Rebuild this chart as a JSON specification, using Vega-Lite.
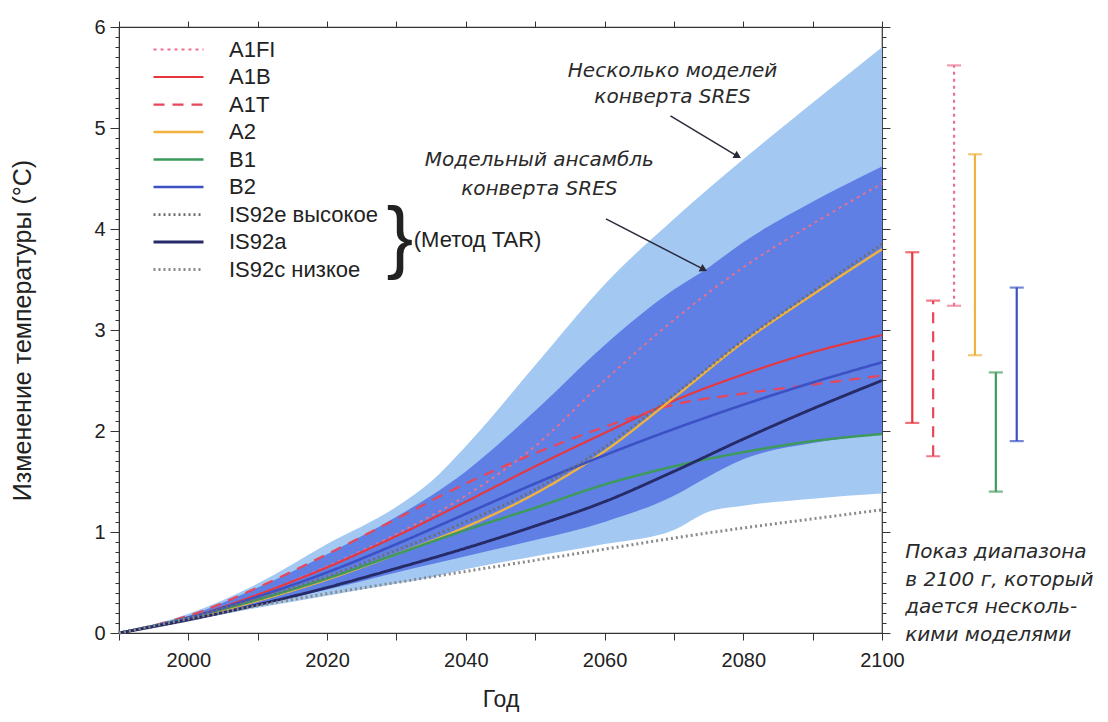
{
  "$schema": "https://vega.github.io/schema/vega-lite/v6.json",
  "background": "white",
  "padding": {"left": 10, "top": 16, "right": 0, "bottom": 0},
  "config": {
    "font": "Liberation Sans",
    "axis": {"labelFont": "Liberation Sans", "titleFont": "Liberation Sans", "labelColor": "#222", "titleColor": "#222", "domainColor": "#333", "tickColor": "#333", "titleFontWeight": "normal"},
    "view": {"stroke": "#333", "strokeWidth": 1.2}
  },
  "datasets": {
    "env": [
      {"year": 1990, "lightLo": 0, "lightHi": 0, "darkLo": 0, "darkHi": 0},
      {"year": 2000, "lightLo": 0.12, "lightHi": 0.19, "darkLo": 0.13, "darkHi": 0.17},
      {"year": 2010, "lightLo": 0.25, "lightHi": 0.49, "darkLo": 0.28, "darkHi": 0.45},
      {"year": 2020, "lightLo": 0.37, "lightHi": 0.88, "darkLo": 0.43, "darkHi": 0.78},
      {"year": 2030, "lightLo": 0.49, "lightHi": 1.25, "darkLo": 0.6, "darkHi": 1.15},
      {"year": 2035, "lightLo": 0.55, "lightHi": 1.5, "darkLo": 0.68, "darkHi": 1.36},
      {"year": 2040, "lightLo": 0.63, "lightHi": 1.85, "darkLo": 0.76, "darkHi": 1.6},
      {"year": 2050, "lightLo": 0.76, "lightHi": 2.65, "darkLo": 0.92, "darkHi": 2.2},
      {"year": 2060, "lightLo": 0.88, "lightHi": 3.45, "darkLo": 1.1, "darkHi": 2.85},
      {"year": 2070, "lightLo": 1.02, "lightHi": 4.1, "darkLo": 1.36, "darkHi": 3.4},
      {"year": 2075, "lightLo": 1.2, "lightHi": 4.4, "darkLo": 1.55, "darkHi": 3.62},
      {"year": 2080, "lightLo": 1.26, "lightHi": 4.69, "darkLo": 1.72, "darkHi": 3.87},
      {"year": 2090, "lightLo": 1.33, "lightHi": 5.25, "darkLo": 1.88, "darkHi": 4.27},
      {"year": 2100, "lightLo": 1.38, "lightHi": 5.8, "darkLo": 1.97, "darkHi": 4.62}
    ],
    "series": [
      {"scenario": "A1FI", "year": 1990, "temp": 0}, {"scenario": "A1FI", "year": 2000, "temp": 0.15}, {"scenario": "A1FI", "year": 2010, "temp": 0.38}, {"scenario": "A1FI", "year": 2020, "temp": 0.66}, {"scenario": "A1FI", "year": 2030, "temp": 0.98}, {"scenario": "A1FI", "year": 2040, "temp": 1.36}, {"scenario": "A1FI", "year": 2050, "temp": 1.85}, {"scenario": "A1FI", "year": 2060, "temp": 2.5}, {"scenario": "A1FI", "year": 2070, "temp": 3.1}, {"scenario": "A1FI", "year": 2080, "temp": 3.62}, {"scenario": "A1FI", "year": 2090, "temp": 4.05}, {"scenario": "A1FI", "year": 2100, "temp": 4.45},
      {"scenario": "A1B", "year": 1990, "temp": 0}, {"scenario": "A1B", "year": 2000, "temp": 0.15}, {"scenario": "A1B", "year": 2010, "temp": 0.38}, {"scenario": "A1B", "year": 2020, "temp": 0.65}, {"scenario": "A1B", "year": 2030, "temp": 0.96}, {"scenario": "A1B", "year": 2040, "temp": 1.3}, {"scenario": "A1B", "year": 2050, "temp": 1.65}, {"scenario": "A1B", "year": 2060, "temp": 1.98}, {"scenario": "A1B", "year": 2070, "temp": 2.3}, {"scenario": "A1B", "year": 2080, "temp": 2.56}, {"scenario": "A1B", "year": 2090, "temp": 2.78}, {"scenario": "A1B", "year": 2100, "temp": 2.95},
      {"scenario": "A1T", "year": 1990, "temp": 0}, {"scenario": "A1T", "year": 2000, "temp": 0.17}, {"scenario": "A1T", "year": 2010, "temp": 0.45}, {"scenario": "A1T", "year": 2020, "temp": 0.78}, {"scenario": "A1T", "year": 2030, "temp": 1.13}, {"scenario": "A1T", "year": 2040, "temp": 1.48}, {"scenario": "A1T", "year": 2050, "temp": 1.78}, {"scenario": "A1T", "year": 2060, "temp": 2.04}, {"scenario": "A1T", "year": 2070, "temp": 2.26}, {"scenario": "A1T", "year": 2080, "temp": 2.37}, {"scenario": "A1T", "year": 2090, "temp": 2.46}, {"scenario": "A1T", "year": 2100, "temp": 2.55},
      {"scenario": "A2", "year": 1990, "temp": 0}, {"scenario": "A2", "year": 2000, "temp": 0.14}, {"scenario": "A2", "year": 2010, "temp": 0.32}, {"scenario": "A2", "year": 2020, "temp": 0.53}, {"scenario": "A2", "year": 2030, "temp": 0.78}, {"scenario": "A2", "year": 2040, "temp": 1.05}, {"scenario": "A2", "year": 2050, "temp": 1.38}, {"scenario": "A2", "year": 2060, "temp": 1.8}, {"scenario": "A2", "year": 2070, "temp": 2.33}, {"scenario": "A2", "year": 2080, "temp": 2.88}, {"scenario": "A2", "year": 2090, "temp": 3.35}, {"scenario": "A2", "year": 2100, "temp": 3.8},
      {"scenario": "B1", "year": 1990, "temp": 0}, {"scenario": "B1", "year": 2000, "temp": 0.15}, {"scenario": "B1", "year": 2010, "temp": 0.33}, {"scenario": "B1", "year": 2020, "temp": 0.54}, {"scenario": "B1", "year": 2030, "temp": 0.78}, {"scenario": "B1", "year": 2040, "temp": 1.02}, {"scenario": "B1", "year": 2050, "temp": 1.24}, {"scenario": "B1", "year": 2060, "temp": 1.47}, {"scenario": "B1", "year": 2070, "temp": 1.65}, {"scenario": "B1", "year": 2080, "temp": 1.79}, {"scenario": "B1", "year": 2090, "temp": 1.9}, {"scenario": "B1", "year": 2100, "temp": 1.97},
      {"scenario": "B2", "year": 1990, "temp": 0}, {"scenario": "B2", "year": 2000, "temp": 0.15}, {"scenario": "B2", "year": 2010, "temp": 0.36}, {"scenario": "B2", "year": 2020, "temp": 0.6}, {"scenario": "B2", "year": 2030, "temp": 0.88}, {"scenario": "B2", "year": 2040, "temp": 1.18}, {"scenario": "B2", "year": 2050, "temp": 1.48}, {"scenario": "B2", "year": 2060, "temp": 1.76}, {"scenario": "B2", "year": 2070, "temp": 2.02}, {"scenario": "B2", "year": 2080, "temp": 2.26}, {"scenario": "B2", "year": 2090, "temp": 2.48}, {"scenario": "B2", "year": 2100, "temp": 2.68},
      {"scenario": "IS92e высокое", "year": 1990, "temp": 0}, {"scenario": "IS92e высокое", "year": 2000, "temp": 0.15}, {"scenario": "IS92e высокое", "year": 2010, "temp": 0.34}, {"scenario": "IS92e высокое", "year": 2020, "temp": 0.56}, {"scenario": "IS92e высокое", "year": 2030, "temp": 0.82}, {"scenario": "IS92e высокое", "year": 2040, "temp": 1.1}, {"scenario": "IS92e высокое", "year": 2050, "temp": 1.42}, {"scenario": "IS92e высокое", "year": 2060, "temp": 1.84}, {"scenario": "IS92e высокое", "year": 2070, "temp": 2.36}, {"scenario": "IS92e высокое", "year": 2080, "temp": 2.9}, {"scenario": "IS92e высокое", "year": 2090, "temp": 3.38}, {"scenario": "IS92e высокое", "year": 2100, "temp": 3.85},
      {"scenario": "IS92a", "year": 1990, "temp": 0}, {"scenario": "IS92a", "year": 2000, "temp": 0.13}, {"scenario": "IS92a", "year": 2010, "temp": 0.28}, {"scenario": "IS92a", "year": 2020, "temp": 0.45}, {"scenario": "IS92a", "year": 2030, "temp": 0.64}, {"scenario": "IS92a", "year": 2040, "temp": 0.84}, {"scenario": "IS92a", "year": 2050, "temp": 1.06}, {"scenario": "IS92a", "year": 2060, "temp": 1.3}, {"scenario": "IS92a", "year": 2070, "temp": 1.6}, {"scenario": "IS92a", "year": 2080, "temp": 1.92}, {"scenario": "IS92a", "year": 2090, "temp": 2.22}, {"scenario": "IS92a", "year": 2100, "temp": 2.5},
      {"scenario": "IS92c низкое", "year": 1990, "temp": 0}, {"scenario": "IS92c низкое", "year": 2000, "temp": 0.14}, {"scenario": "IS92c низкое", "year": 2010, "temp": 0.27}, {"scenario": "IS92c низкое", "year": 2020, "temp": 0.39}, {"scenario": "IS92c низкое", "year": 2030, "temp": 0.5}, {"scenario": "IS92c низкое", "year": 2040, "temp": 0.61}, {"scenario": "IS92c низкое", "year": 2050, "temp": 0.72}, {"scenario": "IS92c низкое", "year": 2060, "temp": 0.83}, {"scenario": "IS92c низкое", "year": 2070, "temp": 0.94}, {"scenario": "IS92c низкое", "year": 2080, "temp": 1.04}, {"scenario": "IS92c низкое", "year": 2090, "temp": 1.13}, {"scenario": "IS92c низкое", "year": 2100, "temp": 1.22}
    ],
    "ranges": [
      {"scenario": "A1B", "lo": 2.08, "hi": 3.77},
      {"scenario": "A1T", "lo": 1.75, "hi": 3.29},
      {"scenario": "A1FI", "lo": 3.24, "hi": 5.62},
      {"scenario": "A2", "lo": 2.75, "hi": 4.74},
      {"scenario": "B1", "lo": 1.4, "hi": 2.58},
      {"scenario": "B2", "lo": 1.9, "hi": 3.42}
    ]
  },
  "spacing": 0,
  "hconcat": [
    {
      "width": 763,
      "height": 606,
      "resolve": {"axis": {"x": "independent", "y": "independent"}},
      "layer": [
        {
          "data": {"name": "env"},
          "mark": {"type": "area", "color": "#a3c9f3", "interpolate": "monotone"},
          "encoding": {
            "x": {"field": "year", "type": "quantitative", "scale": {"domain": [1990, 2100], "nice": false, "zero": false},
              "axis": {"title": "Год", "titleFontSize": 23, "titlePadding": 18, "labelFontSize": 20, "labelPadding": 10, "format": "d", "grid": false,
                "values": [1990, 2000, 2010, 2020, 2030, 2040, 2050, 2060, 2070, 2080, 2090, 2100],
                "labelExpr": "datum.value % 20 === 0 ? datum.label : ''", "tickSize": 7, "labelFlush": false}},
            "y": {"field": "lightLo", "type": "quantitative", "scale": {"domain": [0, 6], "nice": false},
              "axis": {"title": "Изменение температуры (°C)", "titleFontSize": 25, "titlePadding": 58, "labelFontSize": 20, "labelPadding": 5, "grid": false,
                "values": [0,0.1,0.2,0.3,0.4,0.5,0.6,0.7,0.8,0.9,1,1.1,1.2,1.3,1.4,1.5,1.6,1.7,1.8,1.9,2,2.1,2.2,2.3,2.4,2.5,2.6,2.7,2.8,2.9,3,3.1,3.2,3.3,3.4,3.5,3.6,3.7,3.8,3.9,4,4.1,4.2,4.3,4.4,4.5,4.6,4.7,4.8,4.9,5,5.1,5.2,5.3,5.4,5.5,5.6,5.7,5.8,5.9,6],
                "labelExpr": "abs(datum.value - round(datum.value)) < 0.001 ? format(datum.value, 'd') : ''",
                "tickSize": {"condition": {"test": "abs(datum.value - round(datum.value)) < 0.001", "value": 9}, "value": 4}}},
            "y2": {"field": "lightHi"}
          }
        },
        {
          "data": {"name": "env"},
          "mark": {"type": "area", "color": "#5f7fe4", "interpolate": "monotone"},
          "encoding": {
            "x": {"field": "year", "type": "quantitative", "axis": {"orient": "top", "labels": false, "title": null, "grid": false, "tickSize": 6, "domain": false,
              "values": [1990, 2000, 2010, 2020, 2030, 2040, 2050, 2060, 2070, 2080, 2090, 2100]}},
            "y": {"field": "darkLo", "type": "quantitative", "axis": {"orient": "right", "labels": false, "title": null, "grid": false, "domain": false,
              "values": [0,0.1,0.2,0.3,0.4,0.5,0.6,0.7,0.8,0.9,1,1.1,1.2,1.3,1.4,1.5,1.6,1.7,1.8,1.9,2,2.1,2.2,2.3,2.4,2.5,2.6,2.7,2.8,2.9,3,3.1,3.2,3.3,3.4,3.5,3.6,3.7,3.8,3.9,4,4.1,4.2,4.3,4.4,4.5,4.6,4.7,4.8,4.9,5,5.1,5.2,5.3,5.4,5.5,5.6,5.7,5.8,5.9,6],
              "tickSize": {"condition": {"test": "abs(datum.value - round(datum.value)) < 0.001", "value": 8}, "value": 4}}},
            "y2": {"field": "darkHi"}
          }
        },
        {
          "data": {"name": "series"},
          "mark": {"type": "line", "interpolate": "monotone"},
          "encoding": {
            "x": {"field": "year", "type": "quantitative", "axis": null},
            "y": {"field": "temp", "type": "quantitative", "axis": null},
            "detail": {"field": "scenario"},
            "color": {"field": "scenario", "type": "nominal",
              "scale": {"domain": ["A1FI", "A1B", "A1T", "A2", "B1", "B2", "IS92e высокое", "IS92a", "IS92c низкое"],
                        "range": ["#e8708f", "#e8363f", "#e8465a", "#f0b23e", "#3d9a5c", "#3c52c4", "#6e6e6e", "#262a66", "#8a8a8a"]},
              "legend": {"orient": "none", "legendX": 33, "legendY": 9, "title": null, "symbolType": "stroke", "symbolSize": 2500, "labelFontSize": 22, "labelColor": "#222", "labelFont": "Liberation Sans", "rowPadding": 0.5, "clipHeight": 27, "labelOffset": 24}},
            "strokeDash": {"field": "scenario", "type": "nominal",
              "scale": {"domain": ["A1FI", "A1B", "A1T", "A2", "B1", "B2", "IS92e высокое", "IS92a", "IS92c низкое"],
                        "range": [[3, 4], [1, 0], [11, 8], [1, 0], [1, 0], [1, 0], [2, 3], [1, 0], [2, 3]]}},
            "strokeWidth": {"field": "scenario", "type": "nominal",
              "scale": {"domain": ["A1FI", "A1B", "A1T", "A2", "B1", "B2", "IS92e высокое", "IS92a", "IS92c низкое"],
                        "range": [2, 3, 3, 2.5, 2, 2, 2.5, 2, 2]}}
          }
        },
        {
          "data": {"values": [{}]},
          "mark": {"type": "rule", "color": "#2a2a3a", "strokeWidth": 1.5},
          "encoding": {"x": {"datum": 2069.5, "type": "quantitative", "axis": null}, "y": {"datum": 5.12, "type": "quantitative", "axis": null}, "x2": {"datum": 2079.2}, "y2": {"datum": 4.72}}
        },
        {
          "data": {"values": [{}]},
          "mark": {"type": "point", "shape": "triangle-right", "filled": true, "color": "#2a2a3a", "size": 70, "angle": 30, "opacity": 1},
          "encoding": {"x": {"datum": 2079.2, "type": "quantitative", "axis": null}, "y": {"datum": 4.72, "type": "quantitative", "axis": null}}
        },
        {
          "data": {"values": [{}]},
          "mark": {"type": "rule", "color": "#2a2a3a", "strokeWidth": 1.5},
          "encoding": {"x": {"datum": 2060.2, "type": "quantitative", "axis": null}, "y": {"datum": 4.1, "type": "quantitative", "axis": null}, "x2": {"datum": 2074.3}, "y2": {"datum": 3.6}}
        },
        {
          "data": {"values": [{}]},
          "mark": {"type": "point", "shape": "triangle-right", "filled": true, "color": "#2a2a3a", "size": 70, "angle": 27, "opacity": 1},
          "encoding": {"x": {"datum": 2074.3, "type": "quantitative", "axis": null}, "y": {"datum": 3.6, "type": "quantitative", "axis": null}}
        },
        {
          "data": {"values": [{}]},
          "mark": {"type": "text", "align": "center", "baseline": "middle", "font": "DejaVu Sans", "fontSize": 20, "fontStyle": "italic", "color": "#2a2a2a", "lineHeight": 26},
          "encoding": {"x": {"datum": 2069.8, "type": "quantitative", "axis": null}, "y": {"datum": 5.56, "type": "quantitative", "axis": null}, "text": {"value": ["Несколько моделей", "конверта SRES"]}}
        },
        {
          "data": {"values": [{}]},
          "mark": {"type": "text", "align": "center", "baseline": "middle", "font": "DejaVu Sans", "fontSize": 20, "fontStyle": "italic", "color": "#2a2a2a", "lineHeight": 29},
          "encoding": {"x": {"datum": 2050.6, "type": "quantitative", "axis": null}, "y": {"datum": 4.68, "type": "quantitative", "axis": null}, "text": {"value": ["Модельный ансамбль", "конверта SRES"]}}
        },
        {
          "data": {"values": [{}]},
          "mark": {"type": "text", "align": "center", "baseline": "middle", "fontSize": 80, "font": "Liberation Sans", "color": "#222"},
          "encoding": {"x": {"datum": 2030.5, "type": "quantitative", "axis": null}, "y": {"datum": 3.9, "type": "quantitative", "axis": null}, "text": {"value": "}"}}
        },
        {
          "data": {"values": [{}]},
          "mark": {"type": "text", "align": "left", "baseline": "middle", "fontSize": 22, "color": "#222"},
          "encoding": {"x": {"datum": 2032.5, "type": "quantitative", "axis": null}, "y": {"datum": 3.89, "type": "quantitative", "axis": null}, "text": {"value": "(Метод TAR)"}}
        }
      ]
    },
    {
      "width": 117,
      "height": 606,
      "view": {"stroke": null},
      "data": {"name": "ranges"},
      "encoding": {
        "x": {"field": "scenario", "type": "nominal", "scale": {"type": "point", "domain": ["A1B", "A1T", "A1FI", "A2", "B1", "B2"], "padding": 0.3}, "axis": null},
        "color": {"field": "scenario", "type": "nominal", "legend": null,
          "scale": {"domain": ["A1FI", "A1B", "A1T", "A2", "B1", "B2", "IS92e высокое", "IS92a", "IS92c низкое"],
                    "range": ["#e8708f", "#e8363f", "#e8465a", "#f0b23e", "#3d9a5c", "#3c52c4", "#6e6e6e", "#262a66", "#8a8a8a"]}}
      },
      "layer": [
        {
          "mark": {"type": "rule", "strokeWidth": 2.2},
          "encoding": {
            "y": {"field": "lo", "type": "quantitative", "scale": {"domain": [0, 6], "nice": false}, "axis": null},
            "y2": {"field": "hi"},
            "strokeDash": {"field": "scenario", "type": "nominal", "legend": null,
              "scale": {"domain": ["A1FI", "A1B", "A1T", "A2", "B1", "B2", "IS92e высокое", "IS92a", "IS92c низкое"],
                        "range": [[3, 4], [1, 0], [11, 8], [1, 0], [1, 0], [1, 0], [2, 3], [1, 0], [2, 3]]}}
          }
        },
        {
          "mark": {"type": "tick", "orient": "horizontal", "size": 14, "thickness": 2.2},
          "encoding": {"y": {"field": "lo", "type": "quantitative", "scale": {"domain": [0, 6], "nice": false}, "axis": null}}
        },
        {
          "mark": {"type": "tick", "orient": "horizontal", "size": 14, "thickness": 2.2},
          "encoding": {"y": {"field": "hi", "type": "quantitative", "scale": {"domain": [0, 6], "nice": false}, "axis": null}}
        },
        {
          "data": {"values": [{}]},
          "mark": {"type": "text", "align": "left", "baseline": "top", "font": "DejaVu Sans", "fontSize": 20, "fontStyle": "italic", "color": "#2a2a2a", "lineHeight": 27.5, "dx": -7},
          "encoding": {"x": {"datum": "A1B"}, "y": {"datum": 0.9, "type": "quantitative"}, "color": {"value": "#2a2a2a"}, "text": {"value": ["Показ диапазона", "в 2100 г, который", "дается несколь-", "кими моделями"]}}
        }
      ]
    }
  ]
}
